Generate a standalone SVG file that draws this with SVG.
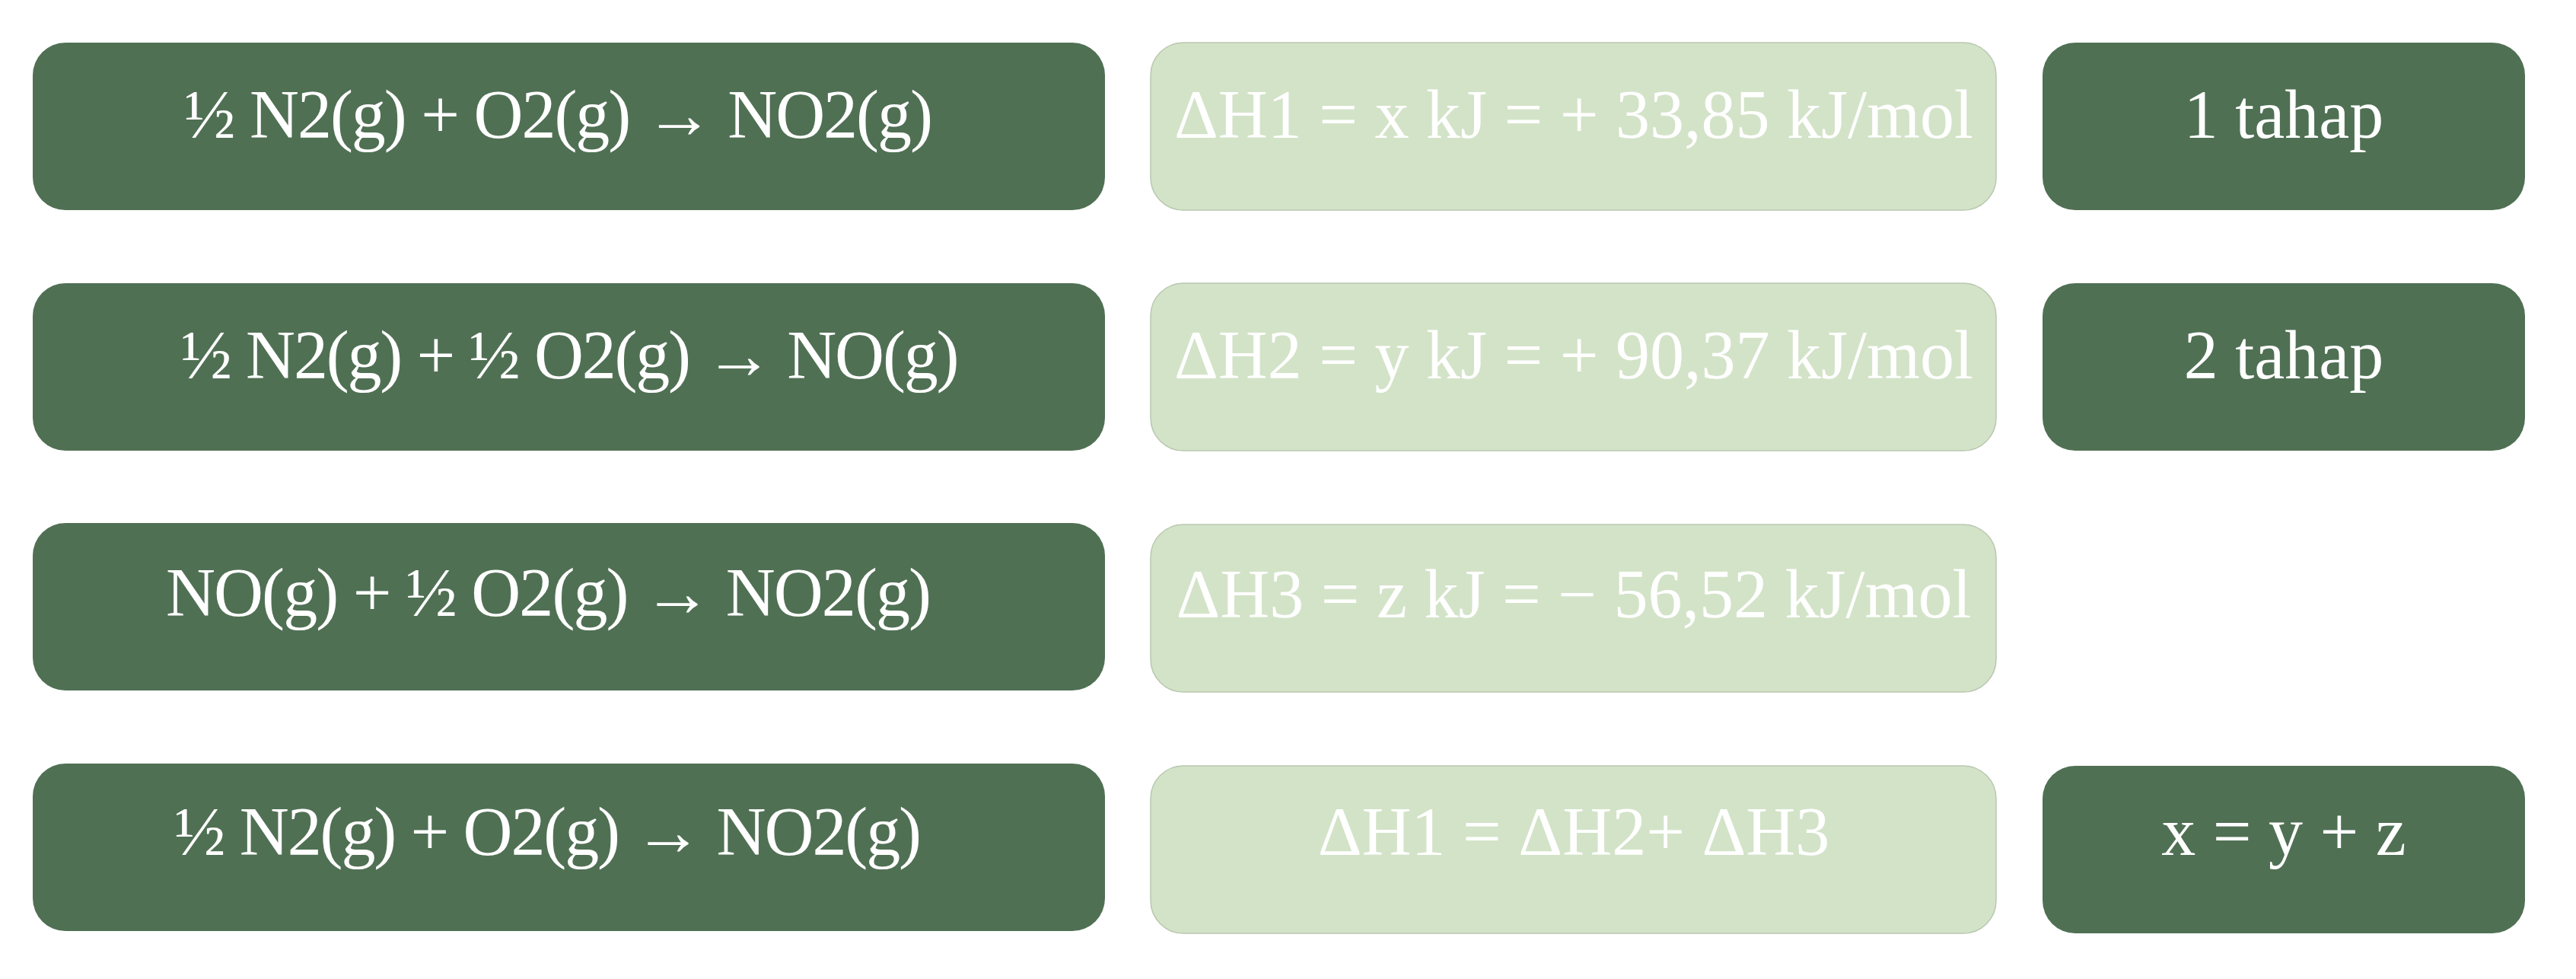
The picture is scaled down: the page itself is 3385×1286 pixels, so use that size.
<svg xmlns="http://www.w3.org/2000/svg" width="3385" height="1286" viewBox="0 0 3385 1286">
<style>
.dark{fill:#507054;}
.light{fill:#d3e3c8;stroke:#b9c7b0;stroke-width:1.5;}
.t{font-family:"Liberation Serif","Times New Roman",serif;font-size:90px;fill:#ffffff;text-anchor:middle;}
</style>
<rect width="3385" height="1286" fill="#ffffff"/>
<g id="connectors"></g>
<g id="r1-eq"><rect class="dark" x="43" y="56" width="1409" height="220" rx="43"/><text class="t" x="734" y="181" textLength="984" lengthAdjust="spacing">½ N2(g) + O2(g) → NO2(g)</text></g>
<g id="r1-dh"><rect class="light" x="1512" y="56" width="1111" height="220" rx="43"/><text class="t" x="2068" y="181">ΔH1 = x kJ = + 33,85 kJ/mol</text></g>
<g id="r1-step"><rect class="dark" x="2684" y="56" width="634" height="220" rx="43"/><text class="t" x="3001" y="181">1 tahap</text></g>

<g id="r2-eq"><rect class="dark" x="43" y="372" width="1409" height="220" rx="43"/><text class="t" x="749" y="497" textLength="1023" lengthAdjust="spacing">½ N2(g) + ½ O2(g) → NO(g)</text></g>
<g id="r2-dh"><rect class="light" x="1512" y="372" width="1111" height="220" rx="43"/><text class="t" x="2068" y="497">ΔH2 = y kJ = + 90,37 kJ/mol</text></g>
<g id="r2-step"><rect class="dark" x="2684" y="372" width="634" height="220" rx="43"/><text class="t" x="3001" y="497">2 tahap</text></g>

<g id="r3-eq"><rect class="dark" x="43" y="687" width="1409" height="220" rx="43"/><text class="t" x="721" y="809" textLength="1006" lengthAdjust="spacing">NO(g) + ½ O2(g) → NO2(g)</text></g>
<g id="r3-dh"><rect class="light" x="1512" y="689" width="1111" height="220" rx="43"/><text class="t" x="2068" y="811">ΔH3 = z kJ = − 56,52 kJ/mol</text></g>

<g id="r4-eq"><rect class="dark" x="43" y="1003" width="1409" height="220" rx="43"/><text class="t" x="720" y="1123" textLength="982" lengthAdjust="spacing">½ N2(g) + O2(g) → NO2(g)</text></g>
<g id="r4-dh"><rect class="light" x="1512" y="1006" width="1111" height="220" rx="43"/><text class="t" x="2068" y="1123">ΔH1 = ΔH2+ ΔH3</text></g>
<g id="r4-step"><rect class="dark" x="2684" y="1006" width="634" height="220" rx="43"/><text class="t" x="3001" y="1123">x = y + z</text></g>
</svg>
